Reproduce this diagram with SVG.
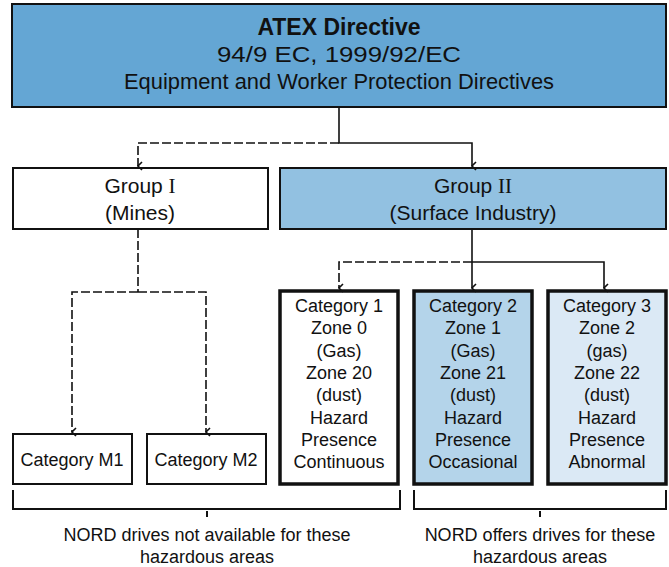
<svg xmlns="http://www.w3.org/2000/svg" width="669" height="567" viewBox="0 0 669 567">
<style>
text{font-family:"Liberation Sans",Arial,sans-serif;fill:#111;text-anchor:middle}
.t22{font-size:22px}
.t21{font-size:21px}
.t18{font-size:18px}
.rn{font-family:"Liberation Serif","Times New Roman",serif}
.box{stroke:#111;stroke-width:2}
.cat{stroke:#111;stroke-width:3.5}
.ln{fill:none;stroke:#111;stroke-width:1.6}
.br{fill:none;stroke:#111;stroke-width:2}
.dash{stroke-dasharray:9,3}
</style>
<defs>
<marker id="ah" viewBox="0 0 10 10" refX="5" refY="9" markerWidth="10" markerHeight="10" markerUnits="userSpaceOnUse" orient="auto-start-reverse">
<path d="M1,5 L5,9 L9,5" fill="none" stroke="#111" stroke-width="1.6"/>
</marker>
</defs>
<g id="atex">
<rect class="box" x="12" y="4" width="654" height="103" fill="#64a6d4" stroke-width="2.5"/>
<text x="339" y="35" style="font-size:23px;font-weight:bold">ATEX Directive</text>
<text class="t22" x="339" y="62" textLength="244" lengthAdjust="spacingAndGlyphs">94/9 EC, 1999/92/EC</text>
<text class="t22" x="339" y="89" textLength="430" lengthAdjust="spacingAndGlyphs">Equipment and Worker Protection Directives</text>
</g>
<g id="group1">
<rect class="box" x="13" y="168" width="255" height="61" fill="#ffffff"/>
<text class="t21" x="140" y="193">Group <tspan class="rn">I</tspan></text>
<text class="t21" x="140" y="220">(Mines)</text>
</g>
<g id="group2">
<rect class="box" x="280" y="168" width="386" height="61" fill="#92c1e1"/>
<text class="t21" x="473" y="193">Group <tspan class="rn">II</tspan></text>
<text class="t21" x="473" y="220">(Surface Industry)</text>
</g>
<g id="m1">
<rect class="box" x="13" y="434" width="119" height="50" fill="#ffffff" stroke-width="1.6"/>
<text class="t18" x="72" y="466">Category M1</text>
</g>
<g id="m2">
<rect class="box" x="147" y="434" width="119" height="50" fill="#ffffff" stroke-width="1.6"/>
<text class="t18" x="206" y="466">Category M2</text>
</g>
<g id="cat1">
<rect class="cat" x="280" y="291" width="118" height="193" fill="#ffffff"/>
<text class="t18" x="339" y="312">Category 1</text>
<text class="t18" x="339" y="334">Zone 0</text>
<text class="t18" x="339" y="357">(Gas)</text>
<text class="t18" x="339" y="379">Zone 20</text>
<text class="t18" x="339" y="401">(dust)</text>
<text class="t18" x="339" y="424">Hazard</text>
<text class="t18" x="339" y="446">Presence</text>
<text class="t18" x="339" y="468">Continuous</text>
</g>
<g id="cat2">
<rect class="cat" x="414" y="291" width="118" height="193" fill="#b4d4ea"/>
<text class="t18" x="473" y="312">Category 2</text>
<text class="t18" x="473" y="334">Zone 1</text>
<text class="t18" x="473" y="357">(Gas)</text>
<text class="t18" x="473" y="379">Zone 21</text>
<text class="t18" x="473" y="401">(dust)</text>
<text class="t18" x="473" y="424">Hazard</text>
<text class="t18" x="473" y="446">Presence</text>
<text class="t18" x="473" y="468">Occasional</text>
</g>
<g id="cat3">
<rect class="cat" x="548" y="291" width="118" height="193" fill="#dbe9f5"/>
<text class="t18" x="607" y="312">Category 3</text>
<text class="t18" x="607" y="334">Zone 2</text>
<text class="t18" x="607" y="357">(gas)</text>
<text class="t18" x="607" y="379">Zone 22</text>
<text class="t18" x="607" y="401">(dust)</text>
<text class="t18" x="607" y="424">Hazard</text>
<text class="t18" x="607" y="446">Presence</text>
<text class="t18" x="607" y="468">Abnormal</text>
</g>
<g id="connectors">
<path class="ln" d="M339,107 V143 H472 V166" marker-end="url(#ah)"/>
<path class="ln dash" d="M339,143 H138 V166" marker-end="url(#ah)"/>
<path class="ln dash" d="M138,229 V292"/>
<path class="ln dash" d="M138,292 H72 V432" marker-end="url(#ah)"/>
<path class="ln dash" d="M138,292 H206 V432" marker-end="url(#ah)"/>
<path class="ln" d="M472,229 V288" marker-end="url(#ah)"/>
<path class="ln" d="M472,262 H604 V288" marker-end="url(#ah)"/>
<path class="ln dash" d="M472,262 H339 V288" marker-end="url(#ah)"/>
</g>
<g id="brackets">
<path class="br" d="M13,490 V509 H400 V490"/>
<path class="br" d="M207,511 V517"/>
<path class="br" d="M414,490 V509 H666 V490"/>
<path class="br" d="M540,511 V517"/>
</g>
<g id="notes">
<text class="t18" x="207" y="541">NORD drives not available for these</text>
<text class="t18" x="207" y="563">hazardous areas</text>
<text class="t18" x="540" y="541">NORD offers drives for these</text>
<text class="t18" x="540" y="563">hazardous areas</text>
</g>
</svg>
